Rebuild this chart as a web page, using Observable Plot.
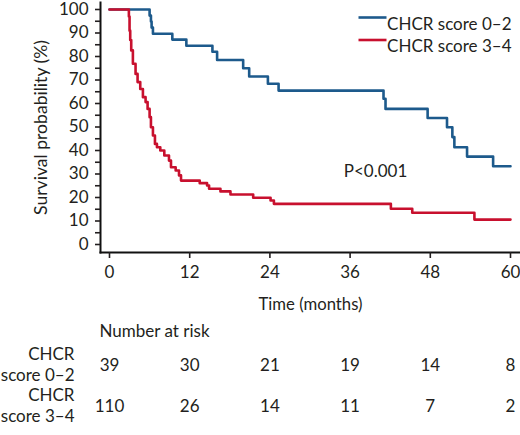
<!DOCTYPE html>
<html>
<head>
<meta charset="utf-8">
<script src="https://cdn.jsdelivr.net/npm/d3@7"></script>
<script src="https://cdn.jsdelivr.net/npm/@observablehq/plot@0.6"></script>
<style>
  html, body { margin: 0; padding: 0; background: #fff; }
  #chart svg { display: block; }
</style>
</head>
<body>
<div id="chart"></div>
<script>
// ---- data ----
const groups = ["CHCR score 0–2", "CHCR score 3–4"];
const groupLine1 = ["CHCR", "CHCR"];
const groupLine2 = ["score 0–2", "score 3–4"];
const colors = ["#1d5a8c", "#c8102e"];

// Kaplan–Meier step points (time in months, survival %)
const lowTime = [0, 6.0, 6.2, 6.3, 6.5, 9.4, 11.5, 15.4, 16.1, 20.0, 20.9, 23.7, 25.3, 41.0, 41.3, 47.6, 50.5, 51.3, 51.6, 53.5, 57.4, 60];
const lowSurv = [100, 97.4, 94.9, 92.3, 89.7, 87.2, 84.6, 82.0, 78.5, 75.0, 71.5, 68.4, 65.5, 62.0, 57.7, 53.8, 49.9, 45.7, 41.4, 37.4, 33.3, 33.3];

const highTime = [0, 2.9, 3.0, 3.1, 3.25, 3.5, 3.9, 4.2, 4.6, 5.0, 5.4, 5.7, 6.0, 6.2, 6.5, 6.8, 7.1, 7.6, 8.2, 8.9, 9.2, 9.9, 10.4, 10.7, 13.5, 14.6, 14.9, 16.6, 18.1, 21.5, 24.1, 24.6, 42.1, 45.3, 54.6, 60];
const highSurv = [100, 97, 91, 87, 82.6, 76.9, 72.6, 69.1, 66.2, 62.7, 60.6, 57.7, 54.2, 49.9, 46.4, 42.8, 41.4, 40.0, 37.9, 35.7, 32.9, 31.5, 29.4, 27.2, 26.1, 25.1, 23.7, 22.6, 21.3, 19.9, 18.7, 17.3, 15.2, 13.5, 10.6, 10.6];

const xTicks = [0, 12, 24, 36, 48, 60];
const yTicks = [0, 5, 10, 15, 20, 25, 30, 35, 40, 45, 50, 55, 60, 65, 70, 75, 80, 85, 90, 95, 100];
const riskLow = [39, 30, 21, 19, 14, 8];
const riskHigh = [110, 26, 14, 11, 7, 2];
const pNote = [{time: 39.8, surv: 31, label: "P<0.001"}];
const yLabel = "Survival probability (%)";
const xLabel = "Time (months)";

// ---- build tables ----
const curves = [
  ...lowTime.map((t, i) => ({group: groups[0], time: t, surv: lowSurv[i]})),
  ...highTime.map((t, i) => ({group: groups[1], time: t, surv: highSurv[i]}))
];
const risks = [riskLow, riskHigh];

const font = "Lato, 'Noto Sans', sans-serif";
const ink = "#231f20";
const fs = 17;

const hLine = { draw(ctx) { ctx.moveTo(-14, 0); ctx.lineTo(14, 0); } };

const marks = [
  Plot.frame({anchor: "left", stroke: "#111", strokeWidth: 2}),
  Plot.frame({anchor: "bottom", stroke: "#111", strokeWidth: 2}),
  Plot.axisY(yTicks, {
    tickSize: 5, tickPadding: 7, strokeWidth: 1.6, fontSize: fs, fill: ink,
    tickFormat: d => (d % 10 === 0 ? d : ""), label: null
  }),
  Plot.axisX(xTicks, {tickSize: 6, tickPadding: 7, strokeWidth: 1.6, fontSize: fs, fill: ink, label: null}),
  Plot.line(curves, {
    x: "time", y: "surv", z: "group",
    stroke: d => colors[groups.indexOf(d.group)],
    strokeWidth: 2.6, curve: "step-after"
  }),
  Plot.text(pNote, {x: "time", y: "surv", text: "label", fontSize: fs, fill: ink}),
  Plot.text([yLabel], {
    frameAnchor: "left", textAnchor: "middle", rotate: -90, dx: -59, fontSize: fs, fill: ink
  }),
  Plot.text([xLabel], {frameAnchor: "bottom", textAnchor: "middle", dy: 57, fontSize: fs, fill: ink}),
  Plot.text(["Number at risk"], {
    frameAnchor: "bottom-left", textAnchor: "start", dx: -1, dy: 84, fontSize: fs, fill: ink
  })
];

groups.forEach((g, i) => {
  const rowDy = 118 + i * 41;
  marks.push(
    Plot.dot([g], {
      frameAnchor: "top-right", dx: -148, dy: 15 + i * 22.5,
      symbol: hLine, stroke: colors[i], strokeWidth: 2.6, r: 5
    }),
    Plot.text([g], {
      frameAnchor: "top-right", textAnchor: "end", dx: -9, dy: 15 + i * 22.5,
      fontSize: fs, fill: ink
    }),
    Plot.text([groupLine1[i]], {
      frameAnchor: "bottom-left", textAnchor: "end", dx: -26, dy: rowDy - 10.5,
      fontSize: fs, fill: ink
    }),
    Plot.text([groupLine2[i]], {
      frameAnchor: "bottom-left", textAnchor: "end", dx: -26, dy: rowDy + 10.5,
      fontSize: fs, fill: ink
    }),
    Plot.text(xTicks, {
      x: d => d, text: (d, j) => risks[i][j],
      frameAnchor: "bottom", dy: rowDy, fontSize: fs, fill: ink
    })
  );
});

const chart = Plot.plot({
  width: 520,
  height: 435,
  marginLeft: 100,
  marginRight: 0,
  marginTop: 2,
  marginBottom: 183,
  x: {domain: [0, 60], insetLeft: 9, insetRight: 10},
  y: {domain: [0, 100], insetTop: 7, insetBottom: 8},
  style: {fontFamily: font, fontSize: fs + "px", background: "#fff", color: ink, overflow: "visible"},
  marks
});

// condensed look of the axis titles (as in the reference typeface)
d3.select(chart).selectAll("text")
  .filter(function () { return this.textContent === yLabel; })
  .attr("textLength", 175).attr("lengthAdjust", "spacingAndGlyphs");
d3.select(chart).selectAll("text")
  .filter(function () { return this.textContent === xLabel; })
  .attr("textLength", 104).attr("lengthAdjust", "spacingAndGlyphs");

document.getElementById("chart").append(chart);
</script>
</body>
</html>
